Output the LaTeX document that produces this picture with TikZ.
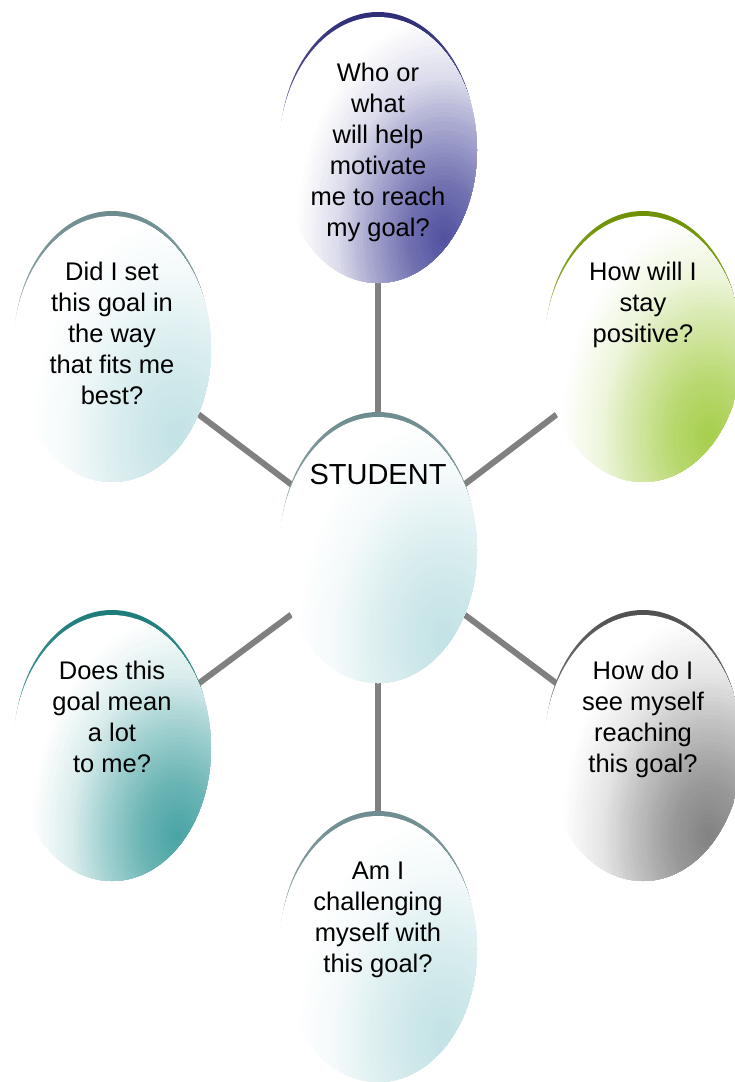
\documentclass[tikz,border=0pt]{standalone}
\usepackage{fontspec}
\setmainfont{Liberation Sans}
\usetikzlibrary{shapes.geometric}

\definecolor{linkgray}{HTML}{808080}
\definecolor{navyfill}{HTML}{4E4E9E}
\definecolor{navyrim}{HTML}{2E2C78}
\definecolor{greenfill}{HTML}{A6CE4A}
\definecolor{greenrim}{HTML}{6E9100}
\definecolor{icefill}{HTML}{C2E2E5}
\definecolor{icerim}{HTML}{6E8C8F}
\definecolor{tealfill}{HTML}{46A2A2}
\definecolor{tealrim}{HTML}{1C7C7A}
\definecolor{greyfill}{HTML}{808080}
\definecolor{greyrim}{HTML}{505050}

\tikzset{
  bubble/.style={ellipse, minimum width=198pt, minimum height=266pt, inner sep=0pt},
  link/.style={draw=linkgray, line width=6pt},
  question/.style={anchor=north, align=center, inner sep=0pt, font=\fontsize{25.5}{31}\selectfont},
  hub/.style={anchor=north, inner sep=0pt, font=\fontsize{29}{35}\selectfont}
}

% rim, white body and shaded body of one bubble
\newcommand{\bubble}[3]{%
  \shade[top color=#3, bottom color=#3!35!white] ([yshift=5pt]#1.center) ellipse (98 and 133);
  \fill[white] (#1.center) ellipse (99 and 133);
  \begin{scope}
    \clip (#1.center) ellipse (99 and 133);
    \foreach \r in {150,147,...,3} {
      \pgfmathtruncatemacro\m{\r<=38 ? 100-0.526*\r : (\r<=76 ? 80-0.789*(\r-38) : (\r<=109 ? 50-0.909*(\r-76) : 20-0.488*(\r-109)))}
      \pgfmathsetmacro\ry{1.5*\r}
      \fill[#2!\m!white] ([shift={(66,88)}]#1.center) ellipse [x radius=\r, y radius=\ry];
    }
  \end{scope}}

\begin{document}
\begin{tikzpicture}[x=1pt, y=-1pt]
    \useasboundingbox (0,0) rectangle (735,1082);
    \clip (0,0) rectangle (735,1082);

    \node[bubble] (top) at (378,150) {};
    \node[bubble] (lefttop) at (112,349) {};
    \node[bubble] (righttop) at (643,349) {};
    \node[bubble] (student) at (378,550) {};
    \node[bubble] (leftbot) at (112,748) {};
    \node[bubble] (rightbot) at (643,748) {};
    \node[bubble] (bottom) at (378,949) {};

    \draw[link] (student) -- (top);
    \draw[link] (student) -- (lefttop);
    \draw[link] (student) -- (righttop);
    \draw[link] (student) -- (leftbot);
    \draw[link] (student) -- (rightbot);
    \draw[link] (student) -- (bottom);

    \bubble{top}{navyfill}{navyrim}
    \bubble{lefttop}{icefill}{icerim}
    \bubble{righttop}{greenfill}{greenrim}
    \bubble{student}{icefill}{icerim}
    \bubble{leftbot}{tealfill}{tealrim}
    \bubble{rightbot}{greyfill}{greyrim}
    \bubble{bottom}{icefill}{icerim}

    \node[question] (top-txt) at ([yshift=-46pt]top.north) {Who or\\what\\will help\\motivate\\me to reach\\my goal?};
    \node[question] (lefttop-txt) at ([yshift=-46pt]lefttop.north) {Did I set\\this goal in\\the way\\that fits me\\best?};
    \node[question] (righttop-txt) at ([yshift=-46pt]righttop.north) {How will I\\stay\\positive?};
    \node[hub] (student-txt) at ([yshift=-47pt]student.north) {STUDENT};
    \node[question] (leftbot-txt) at ([yshift=-46pt]leftbot.north) {Does this\\goal mean\\a lot\\to me?};
    \node[question] (rightbot-txt) at ([yshift=-46pt]rightbot.north) {How do I\\see myself\\reaching\\this goal?};
    \node[question] (bottom-txt) at ([yshift=-46pt]bottom.north) {Am I\\challenging\\myself with\\this goal?};
\end{tikzpicture}
\end{document}
